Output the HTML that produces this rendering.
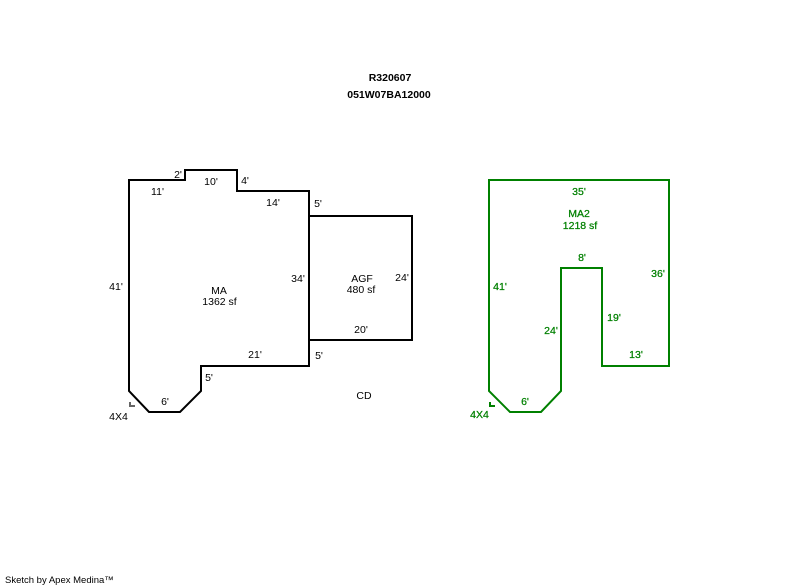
<!DOCTYPE html>
<html>
<head>
<meta charset="utf-8">
<style>
html,body{margin:0;padding:0;background:#fff;width:800px;height:587px;overflow:hidden}
svg{display:block}
text{font-family:"Liberation Sans",Arial,sans-serif;font-size:10.5px;fill:#000}
.g text{fill:#008000;stroke:#008000;stroke-width:0.25px}
.b{font-weight:bold}
.f{font-size:9.5px}
</style>
</head>
<body>
<svg width="800" height="587" viewBox="0 0 800 587" xmlns="http://www.w3.org/2000/svg">
<rect width="800" height="587" fill="#fff"/>
<g text-anchor="middle">
<text class="b" x="390" y="81">R320607</text>
<text class="b" x="389" y="98">051W07BA12000</text>
</g>
<g fill="none" stroke="#000" stroke-width="2">
<polygon points="129,180 185,180 185,170 237,170 237,191 309,191 309,366 201,366 201,391 180,412 149,412 129,391"/>
<polyline points="309,216 412,216 412,340 309,340"/>
</g>
<polyline points="130,402 130,406 135,406" fill="none" stroke="#666" stroke-width="2"/>
<g text-anchor="middle">
<text x="178" y="178">2'</text>
<text x="157.500" y="195">11'</text>
<text x="211" y="185">10'</text>
<text x="245" y="184">4'</text>
<text x="273" y="206">14'</text>
<text x="318" y="207">5'</text>
<text x="298" y="282">34'</text>
<text x="116" y="290">41'</text>
<text x="219" y="294">MA</text>
<text x="219.500" y="305">1362 sf</text>
<text x="362" y="282">AGF</text>
<text x="361" y="293">480 sf</text>
<text x="402" y="281">24'</text>
<text x="361" y="333">20'</text>
<text x="255" y="358">21'</text>
<text x="319" y="359">5'</text>
<text x="209" y="381">5'</text>
<text x="165" y="405">6'</text>
<text x="118.500" y="420">4X4</text>
<text x="364" y="399">CD</text>
</g>
<g class="g">
<polygon points="489,180 669,180 669,366 602,366 602,268 561,268 561,391 541,412 510,412 489,391" fill="none" stroke="#008000" stroke-width="2" style="stroke-width:2px"/>
<polyline points="490,402 490,406 495,406" fill="none" stroke="#008000" stroke-width="2"/>
<g text-anchor="middle">
<text x="579" y="195">35'</text>
<text x="579" y="217">MA2</text>
<text x="580" y="229">1218 sf</text>
<text x="582" y="261">8'</text>
<text x="658" y="277">36'</text>
<text x="500" y="290">41'</text>
<text x="614" y="321">19'</text>
<text x="551" y="334">24'</text>
<text x="636" y="358">13'</text>
<text x="525" y="405">6'</text>
<text x="479.500" y="418">4X4</text>
</g>
</g>
<text class="f" x="5" y="583">Sketch by Apex Medina™</text>
</svg>
</body>
</html>
